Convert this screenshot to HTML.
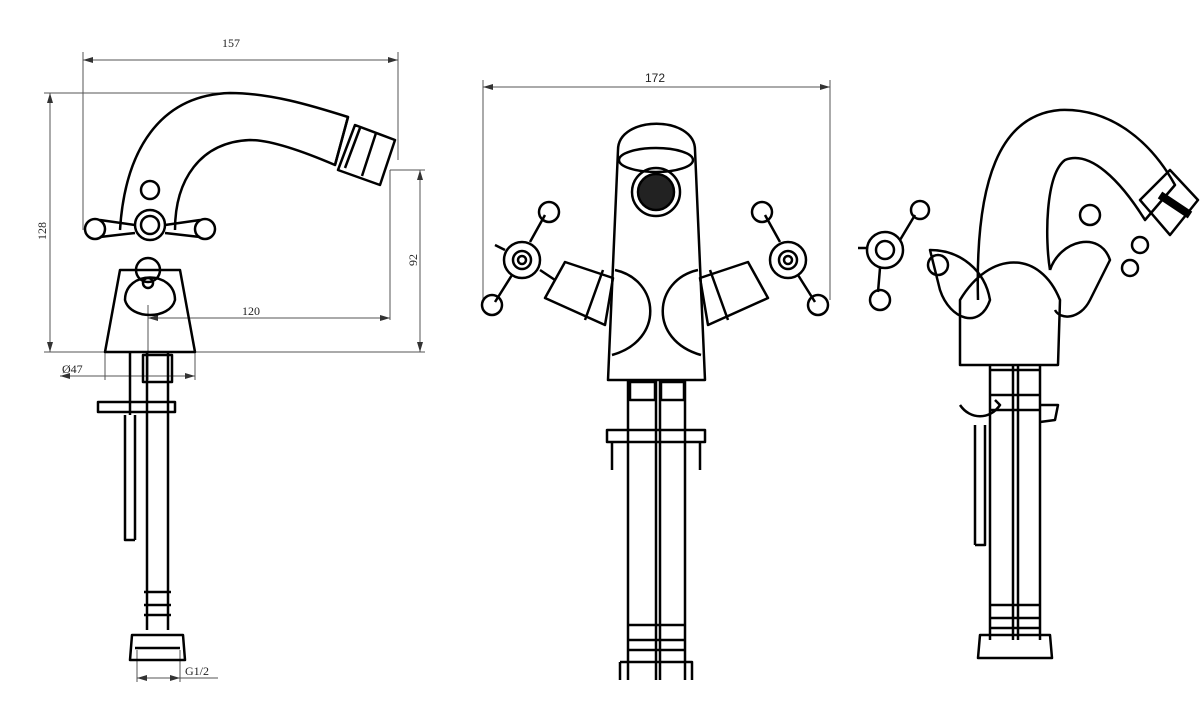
<!DOCTYPE html>
<html><head><style>html,body{margin:0;padding:0;background:#fff}svg{display:block}</style></head>
<body>
<svg width="1200" height="718" viewBox="0 0 1200 718" xmlns="http://www.w3.org/2000/svg" font-family="Liberation Serif, serif">
<defs>
<marker id="a" viewBox="0 0 10 6" refX="10" refY="3" markerWidth="10" markerHeight="6" orient="auto-start-reverse"><path d="M0,0L10,3L0,6z" fill="#333"/></marker>
</defs>
<!-- dimension lines -->
<g stroke="#555" stroke-width="1" fill="none">
<line x1="83" y1="60" x2="398" y2="60" marker-start="url(#a)" marker-end="url(#a)"/>
<line x1="83" y1="52" x2="83" y2="230"/><line x1="398" y1="52" x2="398" y2="160"/>
<line x1="50" y1="93" x2="50" y2="352" marker-start="url(#a)" marker-end="url(#a)"/>
<line x1="44" y1="93" x2="230" y2="93"/><line x1="44" y1="352" x2="425" y2="352"/>
<line x1="420" y1="170" x2="420" y2="352" marker-start="url(#a)" marker-end="url(#a)"/>
<line x1="390" y1="170" x2="425" y2="170"/>
<line x1="148" y1="318" x2="390" y2="318" marker-start="url(#a)" marker-end="url(#a)"/>
<line x1="390" y1="170" x2="390" y2="320"/>
<line x1="148" y1="305" x2="148" y2="380"/>
<line x1="60" y1="376" x2="195" y2="376" marker-start="url(#a)" marker-end="url(#a)"/>
<line x1="195" y1="352" x2="195" y2="380"/><line x1="105" y1="352" x2="105" y2="380"/>
<line x1="137" y1="678" x2="180" y2="678" marker-start="url(#a)" marker-end="url(#a)"/>
<line x1="137" y1="650" x2="137" y2="682"/><line x1="180" y1="650" x2="180" y2="682"/><line x1="180" y1="678" x2="218" y2="678"/>
<line x1="483" y1="87" x2="830" y2="87" marker-start="url(#a)" marker-end="url(#a)"/>
<line x1="483" y1="80" x2="483" y2="300"/><line x1="830" y1="80" x2="830" y2="300"/>
</g>
<g font-size="12" fill="#222">
<text x="222" y="47">157</text>
<text x="645" y="82" font-family="Liberation Sans, sans-serif">172</text>
<text x="242" y="315">120</text>
<text x="62" y="373">Ø47</text>
<text x="185" y="675">G1/2</text>
<text transform="translate(46,240) rotate(-90)">128</text>
<text transform="translate(417,266) rotate(-90)">92</text>
</g>
<!-- LEFT VIEW -->
<g stroke="#000" stroke-width="2.5" fill="none" stroke-linejoin="round">
<path d="M120,230 C125,150 160,95 230,93 C270,93 310,105 348,117 L335,165 C300,150 270,140 250,140 C200,142 175,180 175,230"/>
<path d="M335,165 L348,117"/>
<path d="M338,170 L355,125 L395,140 L380,185 Z"/>
<path d="M345,168 L360,128 M362,176 L376,133"/>
<path d="M105,352 L120,270 L180,270 L195,352 Z"/>
<path d="M125,300 C125,270 175,270 175,300 C170,320 130,320 125,300 Z"/>
<circle cx="150" cy="225" r="15"/><circle cx="150" cy="225" r="9"/>
<circle cx="150" cy="190" r="9"/>
<path d="M135,225 L100,220 M165,225 L200,220 M135,233 L100,237 M165,233 L200,237"/>
<ellipse cx="95" cy="229" rx="10" ry="10"/><ellipse cx="205" cy="229" rx="10" ry="10"/>
<circle cx="148" cy="270" r="12"/><circle cx="148" cy="283" r="5"/>
<path d="M130,352 L130,415 M135,415 L135,540 M125,415 L125,540 L135,540"/>
<path d="M98,402 L175,402 L175,412 L98,412 Z"/>
<path d="M147,352 L147,630 M168,352 L168,630"/>
<path d="M143,355 L172,355 L172,382 L143,382 Z"/>
<path d="M144,592 L171,592 M144,605 L171,605 M144,615 L171,615"/>
<path d="M132,635 L183,635 L185,660 L130,660 Z M135,648 L180,648"/>
</g>
<!-- MIDDLE VIEW -->
<g stroke="#000" stroke-width="2.5" fill="none" stroke-linejoin="round">
<path d="M618,150 C618,115 695,115 695,150 L705,380 L608,380 Z"/>
<ellipse cx="656" cy="160" rx="37" ry="12"/>
<circle cx="656" cy="192" r="24"/><circle cx="656" cy="192" r="18" fill="#222"/>
<path d="M615,270 C660,280 665,340 612,355 M698,270 C653,280 648,340 701,355"/>
<path d="M613,278 L565,262 L545,298 L605,325 Z M603,270 L585,320"/>
<path d="M700,278 L748,262 L768,298 L708,325 Z M710,270 L728,320"/>
<circle cx="522" cy="260" r="18"/><circle cx="522" cy="260" r="9"/><circle cx="522" cy="260" r="4"/>
<circle cx="788" cy="260" r="18"/><circle cx="788" cy="260" r="9"/><circle cx="788" cy="260" r="4"/>
<path d="M530,242 L545,215 M512,275 L495,302 M505,250 L495,245 M540,270 L555,280"/>
<circle cx="549" cy="212" r="10"/><circle cx="492" cy="305" r="10"/>
<path d="M780,242 L765,215 M798,275 L815,302"/>
<circle cx="762" cy="212" r="10"/><circle cx="818" cy="305" r="10"/>
<path d="M628,380 L628,680 M656,380 L656,680 M660,380 L660,680 M685,380 L685,680"/>
<path d="M630,382 L655,382 L655,400 L630,400 Z M661,382 L684,382 L684,400 L661,400 Z"/>
<path d="M607,430 L705,430 L705,442 L607,442 Z M612,442 L612,470 M700,442 L700,470"/>
<path d="M628,625 L685,625 M628,640 L685,640 M628,650 L685,650"/>
<path d="M620,662 L692,662 L692,680 M620,662 L620,680"/>
</g>
<!-- RIGHT VIEW -->
<g stroke="#000" stroke-width="2.5" fill="none" stroke-linejoin="round">
<path d="M978,300 C975,180 1000,115 1060,110 C1110,108 1150,140 1175,185 L1145,220 C1120,180 1090,150 1065,160 C1045,175 1045,240 1050,270"/>
<path d="M1140,200 L1170,170 L1198,200 L1170,235 Z"/><path d="M1160,195 L1190,215" stroke-width="8"/>
<path d="M960,365 L960,300 C990,250 1040,250 1060,300 L1058,365 Z"/>
<path d="M1050,270 C1060,240 1100,230 1110,260 L1090,300 C1080,320 1060,320 1055,310"/>
<circle cx="1090" cy="215" r="10"/><circle cx="1140" cy="245" r="8"/><circle cx="1130" cy="268" r="8"/>
<path d="M930,250 C960,250 985,270 990,300 C980,330 950,320 940,290 Z"/>
<circle cx="885" cy="250" r="18"/><circle cx="885" cy="250" r="9"/>
<circle cx="938" cy="265" r="10"/><circle cx="920" cy="210" r="9"/><circle cx="880" cy="300" r="10"/>
<path d="M868,248 L858,248 M900,240 L915,215 M880,268 L878,292"/>
<path d="M990,365 L990,640 M1013,365 L1013,640 M1018,365 L1018,640 M1040,365 L1040,640"/>
<path d="M990,370 L1040,370 M990,395 L1040,395 M990,410 L1040,410"/>
<path d="M960,405 C970,420 990,420 1000,405 L995,400 M1040,405 L1058,405 L1055,420 L1040,422"/>
<path d="M975,425 L975,545 M985,425 L985,545 L975,545"/>
<path d="M990,605 L1040,605 M990,618 L1040,618 M990,628 L1040,628"/>
<path d="M980,635 L1050,635 L1052,658 L978,658 Z"/>
</g>
</svg>
</body></html>
